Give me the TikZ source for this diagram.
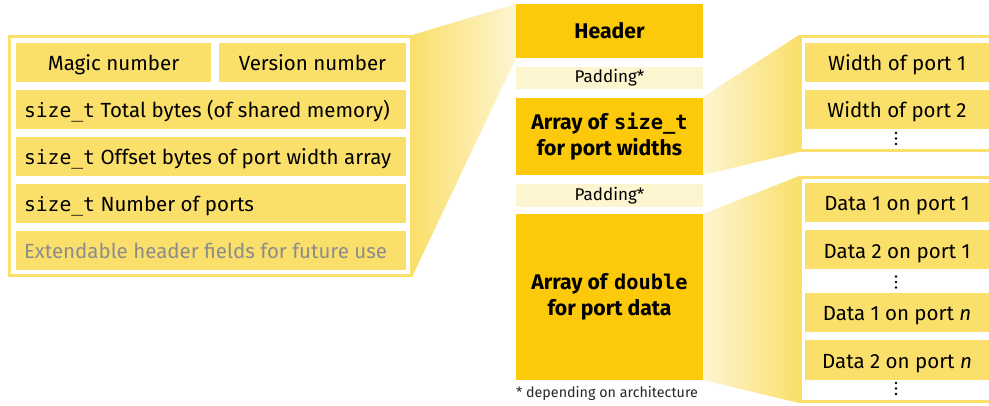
\documentclass[tikz,border=0pt]{standalone}
\usepackage{fontspec}
\setmainfont{Fira Sans}
\setmonofont{DejaVu Sans Mono}[Scale=0.96]
\definecolor{fieldfill}{HTML}{FADF6B}
\definecolor{blockfill}{HTML}{FCCA0B}
\definecolor{padfill}{HTML}{FCF5CF}
\definecolor{fadelight}{HTML}{FDF5D2}
\definecolor{fadedark}{HTML}{FADF6B}
\definecolor{futuretext}{HTML}{8C8C8C}
\tikzset{
  fieldtext/.style={inner sep=0pt, font=\fontsize{20.5}{25}\selectfont,
    text=black, text height=20pt, text depth=3.6pt},
  field/.style={fieldtext, fill=fieldfill, minimum height=39pt},
  leftbox/.style={fill=fieldfill, inner sep=0pt, minimum height=39pt,
    minimum width=390pt},
  leftlabel/.style={fieldtext, anchor=west},
  block/.style={fill=blockfill, inner sep=0pt, minimum width=187pt,
    font=\fontsize{21.2}{26}\selectfont\bfseries, align=center},
  padblock/.style={fill=padfill, inner sep=0pt, minimum width=187pt,
    font=\fontsize{17}{19}\selectfont},
  panel/.style={draw=fieldfill, line width=3pt, fill=white},
  vdot/.style={fill=black, radius=1.4pt},
}
\begin{document}
\begin{tikzpicture}[x=1pt, y=-1pt]
\clip (0,0) rectangle (989,406);
\useasboundingbox (0,0) rectangle (989,406);

% ---------- fanning connectors between the layout and the detail panels
\shade[left color=fadedark, right color=fadelight]
  (412,35) -- (516,4) -- (516,58) -- (412,277) -- cycle;
\shade[left color=fadelight, right color=fadedark]
  (703,97) -- (799,35) -- (799,152) -- (703,175) -- cycle;
\shade[left color=fadelight, right color=fadedark]
  (703,214) -- (799,176) -- (799,403) -- (703,380) -- cycle;

% ---------- header detail panel
\draw[panel] (9.5,36.5) rectangle (411.5,275.5);
\node[field, minimum width=195pt] (magic) at (113.5,62.5) {Magic number};
\node[field, minimum width=187pt] (version) at (312.5,62.5) {Version number};
\node[leftbox] (total) at (211,109.5) {};
\node[leftlabel] (totaltxt) at ([xshift=8pt]total.west)
  {\texttt{size\_t} Total bytes (of shared memory)};
\node[leftbox] (offset) at (211,156.5) {};
\node[leftlabel] (offsettxt) at ([xshift=8pt]offset.west)
  {\texttt{size\_t} Offset bytes of port width array};
\node[leftbox] (nports) at (211,203.5) {};
\node[leftlabel] (nportstxt) at ([xshift=8pt]nports.west)
  {\texttt{size\_t} Number of ports};
\node[leftbox] (future) at (211,250.5) {};
\node[leftlabel, text=futuretext] (futuretxt) at ([xshift=8pt]future.west)
  {Extendable header fields for future use};

% ---------- shared memory layout
\node[block, minimum height=54pt] (header) at (609.5,31) {Header};
\node[padblock, minimum height=22pt] (pad1) at (609.5,78) {Padding*};
\node[block, minimum height=77pt] (widths) at (609.5,136.5)
  {Array of \texttt{size\_t}\\for port widths};
\node[padblock, minimum height=23pt] (pad2) at (609.5,195.5) {Padding*};
\node[block, minimum height=165pt] (data) at (609.5,297)
  {Array of \texttt{double}\\for port data};
\node[font=\fontsize{14.3}{17}\selectfont, text=black!85] (note) at (607,393)
  {* depending on architecture};

% ---------- port width panel
\draw[panel] (800.5,36.5) rectangle (1000,150.5);
\node[field, minimum width=184pt] (w1) at (897,62.5) {Width of port 1};
\node[field, minimum width=184pt] (w2) at (897,109.5) {Width of port 2};
\fill[vdot] (896,133) circle[] (896,138.5) circle[] (896,144) circle[];

% ---------- port data panel
\draw[panel] (800.5,177.5) rectangle (1000,401.5);
\node[field, minimum width=184pt] (d11) at (897,202.5) {Data 1 on port 1};
\node[field, minimum width=184pt] (d21) at (897,250) {Data 2 on port 1};
\fill[vdot] (896,276.5) circle[] (896,282) circle[] (896,287.5) circle[];
\node[field, minimum width=184pt] (d1n) at (897,312.5) {Data 1 on port \textit{n}};
\node[field, minimum width=184pt] (d2n) at (897,360) {Data 2 on port \textit{n}};
\fill[vdot] (896,383) circle[] (896,388.5) circle[] (896,394) circle[];
\end{tikzpicture}
\end{document}
